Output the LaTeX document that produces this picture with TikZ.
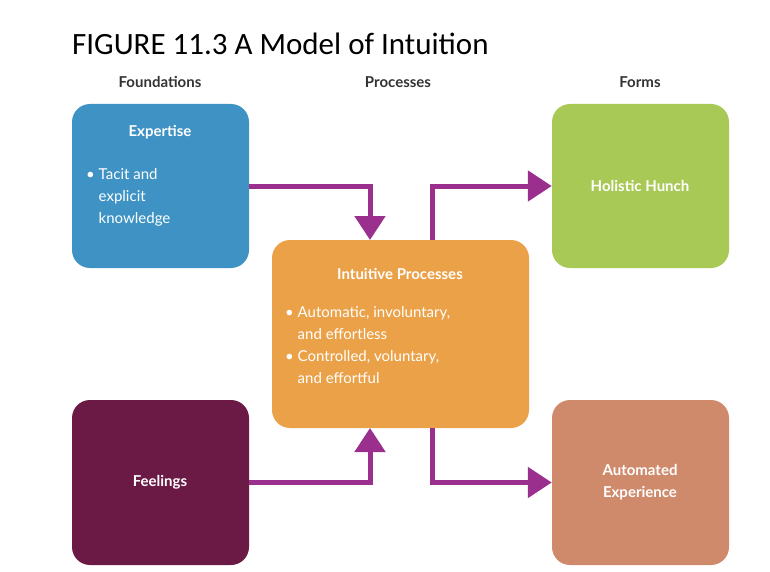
\documentclass[tikz,border=0pt]{standalone}
\usepackage{fontspec}
\setmainfont{Lato}
\newfontfamily\titlefont{Carlito}
\usetikzlibrary{arrows.meta}
\definecolor{cblue}{HTML}{3F93C4}
\definecolor{cmaroon}{HTML}{6B1A45}
\definecolor{corange}{HTML}{EBA147}
\definecolor{cgreen}{HTML}{A8C956}
\definecolor{cbrown}{HTML}{CF8A6C}
\definecolor{cpurple}{HTML}{9B2F8E}
\definecolor{ctext}{HTML}{333333}
\begin{document}
\begin{tikzpicture}[x=1pt,y=-1pt,
 box/.style={draw=none,rounded corners=18pt,text=white,font=\fontsize{15}{19}\selectfont},
 head/.style={font=\bfseries\fontsize{15}{18}\selectfont,text=ctext,anchor=base},
 conn/.style={draw=cpurple,line width=5pt,-{Triangle[width=30pt,length=24pt]}}]
\useasboundingbox (0,0) rectangle (770,572);
\node[anchor=base west,font=\titlefont\fontsize{31}{36}\selectfont,inner sep=0] (title) at (72,55) {FIGURE 11.3 A Model of Intuition};
\node[head] (h1) at (160,88) {Foundations};
\node[head] (h2) at (398,88) {Processes};
\node[head] (h3) at (640,88) {Forms};
\fill[cblue,rounded corners=18pt] (72,104) rectangle (249,268);
\fill[cmaroon,rounded corners=18pt] (72,400) rectangle (249,565);
\fill[corange,rounded corners=18pt] (272,240) rectangle (529,428);
\fill[cgreen,rounded corners=18pt] (552,104) rectangle (729,268);
\fill[cbrown,rounded corners=18pt] (552,400) rectangle (729,565);
\node[inner sep=0,minimum width=177pt,minimum height=164pt] (exp) at (160.5,186) {};
\node[inner sep=0,minimum width=177pt,minimum height=165pt] (feel) at (160.5,482.5) {};
\node[inner sep=0,minimum width=257pt,minimum height=188pt] (ip) at (400.5,334) {};
\node[inner sep=0,minimum width=177pt,minimum height=164pt] (hol) at (640.5,186) {};
\node[inner sep=0,minimum width=177pt,minimum height=165pt] (aut) at (640.5,482.5) {};
\node[text=white,font=\bfseries\fontsize{15}{19}\selectfont] (t1) at (160,132) {Expertise};
\node[text=white,font=\fontsize{15}{22}\selectfont,align=left,anchor=north west,inner sep=0] (t1b) at (86,168) {\textbullet\ Tacit and\\\phantom{\textbullet\ }explicit\\\phantom{\textbullet\ }knowledge};
\node[text=white,font=\bfseries\fontsize{15}{19}\selectfont] (t2) at (160,482) {Feelings};
\node[text=white,font=\bfseries\fontsize{15}{19}\selectfont] (t3) at (400,274) {Intuitive Processes};
\node[text=white,font=\fontsize{15}{22}\selectfont,align=left,anchor=north west,inner sep=0] (t3b) at (285,306) {\textbullet\ Automatic, involuntary,\\\phantom{\textbullet\ }and effortless\\\textbullet\ Controlled, voluntary,\\\phantom{\textbullet\ }and effortful};
\node[text=white,font=\bfseries\fontsize{15}{19}\selectfont] (t4) at (640,186) {Holistic Hunch};
\node[text=white,font=\bfseries\fontsize{15}{22}\selectfont,align=center] (t5) at (640,482) {Automated\\Experience};
\coordinate (ipTL) at (370,240);
\coordinate (ipBL) at (370,428);
\coordinate (ipTR) at (432,240);
\coordinate (ipBR) at (432,428);
\draw[conn] (exp.east) -| (ipTL);
\draw[conn] (feel.east) -| (ipBL);
\draw[conn] (ipTR) |- (hol.west);
\draw[conn] (ipBR) |- (aut.west);
\end{tikzpicture}
\end{document}
